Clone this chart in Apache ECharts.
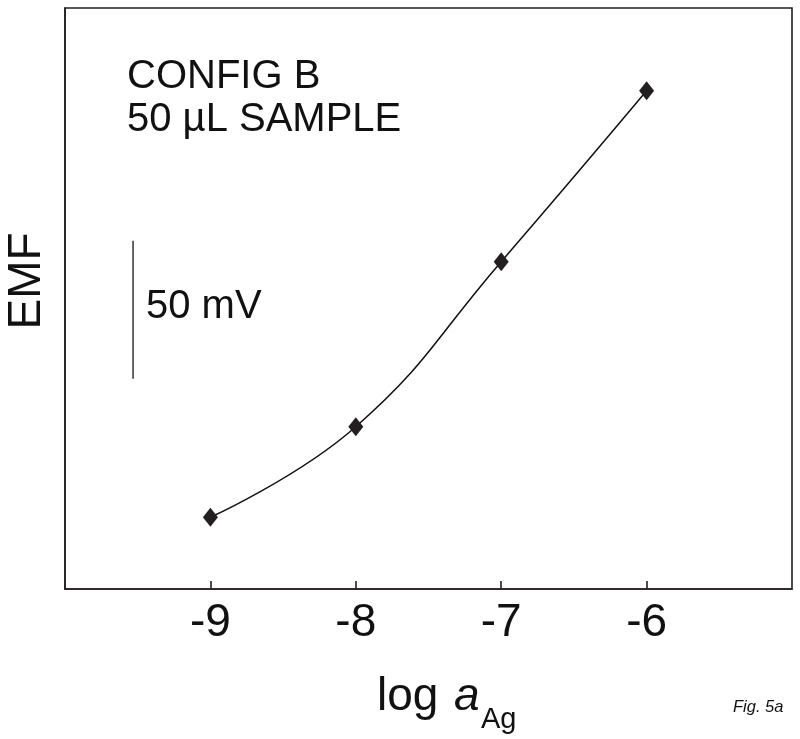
<!DOCTYPE html>
<html>
<head>
<meta charset="utf-8">
<script src="https://cdn.jsdelivr.net/npm/echarts@6/dist/echarts.min.js"></script>
<style>
html,body{margin:0;padding:0;background:#fff;}
#chart{width:800px;height:739px;}
</style>
</head>
<body>
<div id="chart"></div>
<script>
// ---- data ----
const logA = [-9, -8, -7, -6];
const emf = [26.0, 58.8, 118.6, 180.5];          // mV, relative
const xTickLabels = ['-9', '-8', '-7', '-6'];
const scaleBarX = [-9.532, -9.532];
const scaleBarY = [76.2, 126.2];                 // 50 mV bar
const xRange = [-10, -5];
const yRange = [0, 210.5];

const FONT = "'Liberation Sans', Arial, Helvetica, sans-serif";
const INK = '#231f20';

const chart = echarts.init(document.getElementById('chart'), null, {renderer: 'canvas'});

const option = {
  backgroundColor: '#fff',
  animation: false,
  grid: {left: 65, top: 8, right: 8, bottom: 150, show: true, borderColor: INK, borderWidth: 1.6, backgroundColor: 'transparent'},
  xAxis: {
    type: 'value', min: xRange[0], max: xRange[1], interval: 1,
    axisLine: {show: true, lineStyle: {color: INK, width: 1.6}},
    axisTick: {show: true, inside: true, length: 8, lineStyle: {color: INK, width: 1.6},
      customValues: logA},
    axisLabel: {
      show: true, margin: 11, color: '#111', fontFamily: FONT, fontSize: 46,
      customValues: logA,
      formatter: v => xTickLabels[logA.indexOf(v)] ?? ''
    },
    splitLine: {show: false}
  },
  yAxis: {
    type: 'value', min: yRange[0], max: yRange[1],
    axisLine: {show: true, lineStyle: {color: INK, width: 1.6}},
    axisTick: {show: false}, axisLabel: {show: false}, splitLine: {show: false}
  },
  series: [
    {
      type: 'line', name: 'fit',
      data: logA.map((x, i) => [x, emf[i]]),
      smooth: 0.45,
      showSymbol: true,
      symbol: 'diamond', symbolSize: [15, 19],
      itemStyle: {color: INK},
      lineStyle: {color: '#111', width: 1.5},
      z: 3
    },
    {
      type: 'line', name: 'scale',
      data: scaleBarX.map((x, i) => [x, scaleBarY[i]]),
      showSymbol: false, symbol: 'none',
      lineStyle: {color: '#333', width: 1.5},
      z: 2
    }
  ],
  graphic: [
    {type: 'text', x: 127, y: 77, style: {text: 'CONFIG B', font: `40px ${FONT}`, fill: '#111', verticalAlign: 'middle', align: 'left'}},
    {type: 'text', x: 127, y: 120, style: {text: '50 µL SAMPLE', font: `40px ${FONT}`, fill: '#111', verticalAlign: 'middle', align: 'left'}},
    {type: 'text', x: 146, y: 307, style: {text: '50 mV', font: `40px ${FONT}`, fill: '#111', verticalAlign: 'middle', align: 'left'}},
    {type: 'text', x: 27, y: 281, rotation: Math.PI / 2, style: {text: 'EMF', font: `46px ${FONT}`, fill: '#111', verticalAlign: 'middle', align: 'center'}},
    {type: 'text', x: 377, y: 697, style: {text: 'log', font: `46px ${FONT}`, fill: '#111', verticalAlign: 'middle', align: 'left'}},
    {type: 'text', x: 454, y: 697, style: {text: 'a', font: `italic 46px ${FONT}`, fill: '#111', verticalAlign: 'middle', align: 'left'}},
    {type: 'text', x: 481, y: 720, style: {text: 'Ag', font: `29px ${FONT}`, fill: '#111', verticalAlign: 'middle', align: 'left'}},
    {type: 'text', x: 733, y: 707, style: {text: 'Fig. 5a', font: `italic 16.5px ${FONT}`, fill: '#111', verticalAlign: 'middle', align: 'left'}}
  ]
};
chart.setOption(option);
</script>
</body>
</html>
